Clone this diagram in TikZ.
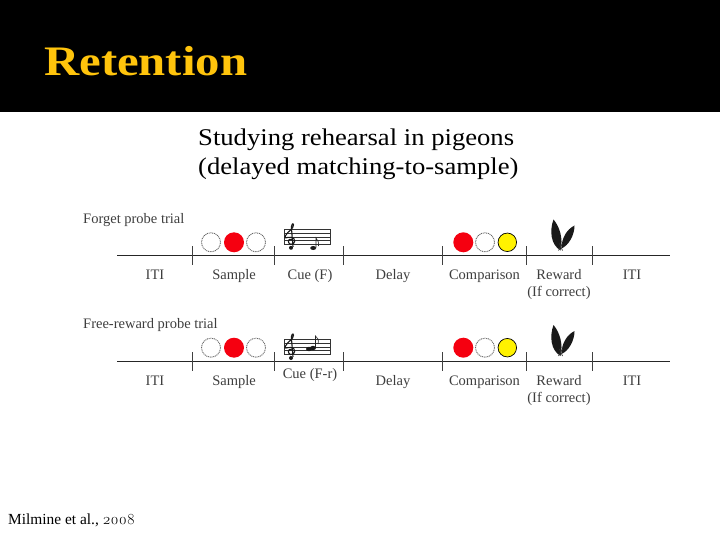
\documentclass[tikz,border=0pt]{standalone}
\usepackage{fontspec}
\setmainfont{Liberation Serif}
\newfontfamily\widefont[FakeStretch=1.11]{Liberation Serif}
\newfontfamily\titlefont[FakeStretch=1.16]{Liberation Serif}
\newfontfamily\oldnumfont[Numbers=OldStyle]{Latin Modern Roman}
\usetikzlibrary{positioning}
\definecolor{titlegold}{HTML}{FFC40C}
\definecolor{labelgray}{HTML}{3E3E3E}
\definecolor{dotgray}{HTML}{666666}
\definecolor{cuered}{HTML}{F50010}
\definecolor{cueyellow}{HTML}{FFF200}
\tikzset{
  lbl/.style={font=\fontsize{14.5}{16}\selectfont, text=labelgray, anchor=base, inner sep=0pt},
  rowlbl/.style={lbl, anchor=base west},
  timeline/.style={line width=0.9pt, black!85},
  tickmark/.style={rectangle, fill=black!75, minimum width=0.8pt, minimum height=19pt, inner sep=0pt},
  redkey/.style={circle, fill=cuered, minimum size=20pt, inner sep=0pt},
  blankkey/.style={circle, draw=dotgray, dash pattern=on 1pt off 0.8pt, line width=0.9pt, minimum size=19pt, inner sep=0pt},
  yellowkey/.style={circle, draw=black, fill=cueyellow, line width=0.7pt, minimum size=18.5pt, inner sep=0pt},
  staff/.pic={
    \draw[line width=0.6pt, black!80] (-23,-7.5) rectangle (23,7.5);
    \draw[line width=0.5pt, black!80] (-23,-3.7) -- (23,-3.7) (-23,0) -- (23,0) (-23,3.7) -- (23,3.7);
    \draw[line width=1.1pt, black!90] (-15.5,2.5) .. controls (-19,1.5) and (-20,6) .. (-16.5,7.5)
      .. controls (-11.5,8.5) and (-10.5,1) .. (-16,0.5) .. controls (-21,0) and (-23,3) .. (-21.5,-1)
      .. controls (-20,-5) and (-13,-8) .. (-13.5,-12) .. controls (-14,-14.5) and (-16,-12) .. (-15.5,-8)
      -- (-14,10);
    \fill[black!90] (-16,11) circle (2);
  },
  leaf/.pic={
    \fill[black!90] (0,0) .. controls (-10,-6) and (-11,-20) .. (-7,-31) .. controls (-1,-24) and (3,-12) .. (0,0) -- cycle;
    \fill[black!90] (1,-2) .. controls (1,-12) and (6,-21) .. (14,-25) .. controls (14,-15) and (8,-5) .. (1,-2) -- cycle;
    \draw[line width=0.7pt, black!80] (-2,0) -- (2,-7) (2,0) -- (-1,-7);
  },
}
\begin{document}
\begin{tikzpicture}[x=1pt, y=-1pt]
\useasboundingbox (0,0) rectangle (720,540);

% ── header band ────────────────────────────────────────────────────────
\fill[black] (0,0) rectangle (720,112);
\node[anchor=base west, inner sep=0pt, text=titlegold, font=\titlefont\bfseries\fontsize{42}{44}\selectfont] (title) at (44,76) {Retention};
\node[anchor=base west, inner sep=0pt, font=\widefont\fontsize{24}{26}\selectfont] (sub1) at (198,146) {Studying rehearsal in pigeons};
\node[anchor=base west, inner sep=0pt, font=\widefont\fontsize{24}{26}\selectfont] (sub2) at (198,175) {(delayed matching-to-sample)};

% ── top row: forget probe ──────────────────────────────────────────────
\node[rowlbl] (forget) at (83,223) {Forget probe trial};
\coordinate (startA) at (117,255.5);
\coordinate (endA) at (670,255.5);
\draw[timeline] (startA) -- (endA);
\node[tickmark] (tickA1) at (192.3,255.5) {};
\node[tickmark] (tickA2) at (274.3,255.5) {};
\node[tickmark] (tickA3) at (343.7,255.5) {};
\node[tickmark] (tickA4) at (442,255.5) {};
\node[tickmark] (tickA5) at (526.3,255.5) {};
\node[tickmark] (tickA6) at (592.3,255.5) {};
\node[blankkey] (sampleA1) at (211,242.3) {};
\node[redkey] (sampleA2) at (234,242.3) {};
\node[blankkey] (sampleA3) at (256,242.3) {};
\pic at (307,236.8) {staff};
\fill[black!90] (313.2,248) ellipse (3 and 2);
\draw[line width=0.6pt, black!85] (316,247.5) -- (316,238) .. controls (318,241) and (319,242) .. (318.5,246);
\node[redkey] (compA1) at (463.3,242.3) {};
\node[blankkey] (compA2) at (485,242.3) {};
\node[yellowkey] (compA3) at (507.3,242.3) {};
\pic at (560.5,250.5) {leaf};
\node[lbl] (itiA1) at (155,279) {ITI};
\node[lbl] (sampleA) at (234,279) {Sample};
\node[lbl] (cueA) at (310,279) {Cue (F)};
\node[lbl] (delayA) at (393,279) {Delay};
\node[lbl] (compA) at (484.5,279) {Comparison};
\node[lbl] (rewardA) at (559,279) {Reward};
\node[lbl] (ifA) at (559,296) {(If correct)};
\node[lbl] (itiA2) at (632,279) {ITI};

% ── bottom row: free-reward probe ──────────────────────────────────────
\node[rowlbl] (free) at (83,328) {Free-reward probe trial};
\coordinate (startB) at (117,361);
\coordinate (endB) at (670,361);
\draw[timeline] (startB) -- (endB);
\node[tickmark] (tickB1) at (192.3,361) {};
\node[tickmark] (tickB2) at (274.3,361) {};
\node[tickmark] (tickB3) at (343.7,361) {};
\node[tickmark] (tickB4) at (442,361) {};
\node[tickmark] (tickB5) at (526.3,361) {};
\node[tickmark] (tickB6) at (592.3,361) {};
\node[blankkey] (sampleB1) at (211,347.7) {};
\node[redkey] (sampleB2) at (234,347.7) {};
\node[blankkey] (sampleB3) at (256,347.7) {};
\pic at (307,347) {staff};
\fill[black!90] (309,349) ellipse (3 and 2.2);
\fill[black!90] (313,348) ellipse (3 and 2.2);
\draw[line width=0.6pt, black!85] (315.5,347) -- (315.5,336) .. controls (318,338) and (319,340) .. (318,344);
\node[redkey] (compB1) at (463.3,347.7) {};
\node[blankkey] (compB2) at (485,347.7) {};
\node[yellowkey] (compB3) at (507.3,347.7) {};
\pic at (560.5,356) {leaf};
\node[lbl] (itiB1) at (155,385) {ITI};
\node[lbl] (sampleB) at (234,385) {Sample};
\node[lbl] (cueB) at (310,378) {Cue (F-r)};
\node[lbl] (delayB) at (393,385) {Delay};
\node[lbl] (compB) at (484.5,385) {Comparison};
\node[lbl] (rewardB) at (559,385) {Reward};
\node[lbl] (ifB) at (559,402) {(If correct)};
\node[lbl] (itiB2) at (632,385) {ITI};

% ── source ─────────────────────────────────────────────────────────────
\node[anchor=base west, inner sep=0pt, font=\fontsize{15.4}{16}\selectfont] (source) at (8,524) {Milmine et al., {\oldnumfont 2008}};

\end{tikzpicture}
\end{document}
